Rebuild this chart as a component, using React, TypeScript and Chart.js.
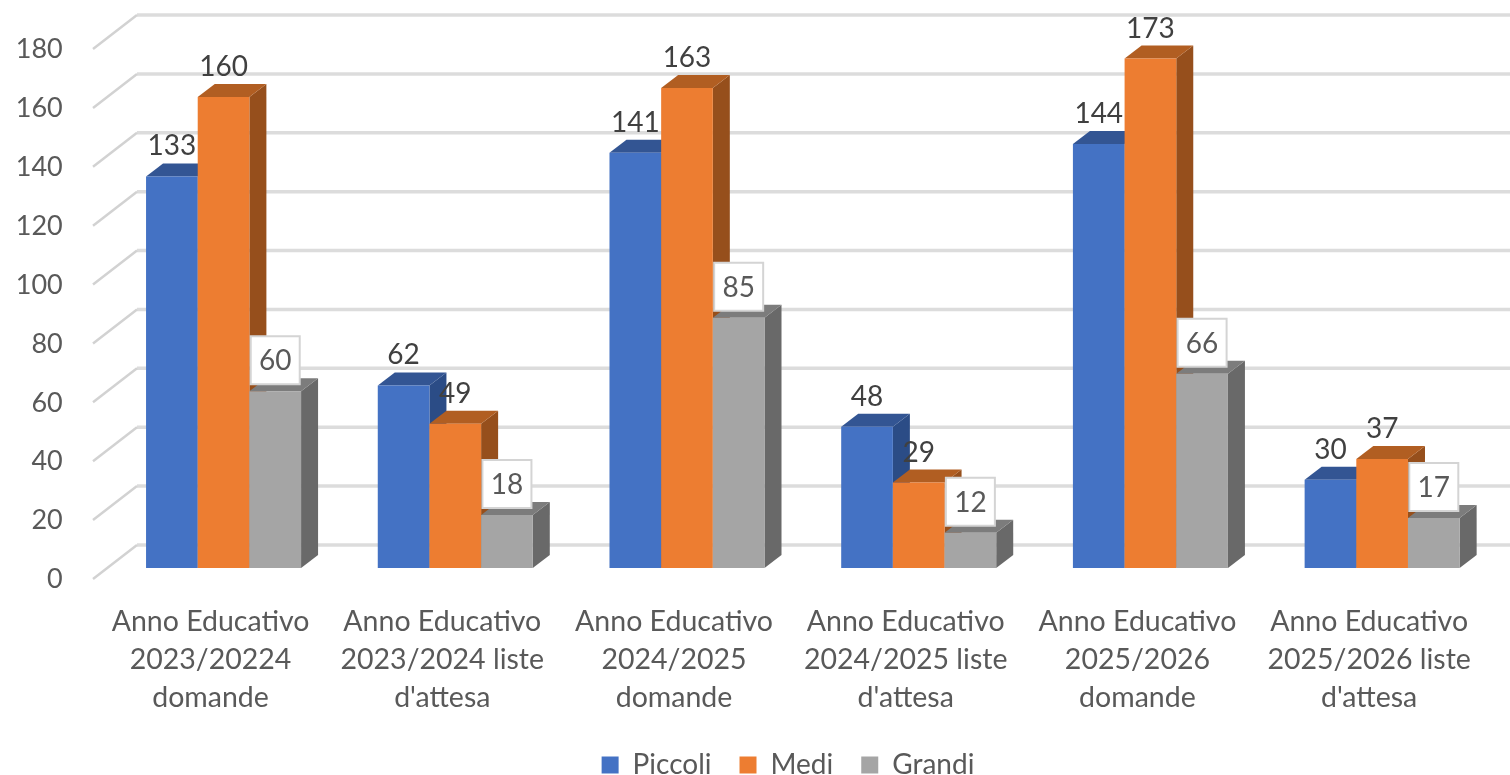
import React, { useEffect, useRef } from "react";
import { Chart, registerables } from "chart.js";

Chart.register(...registerables);

const categories = [
  ["Anno Educativo", "2023/20224", "domande"],
  ["Anno Educativo", "2023/2024 liste", "d'attesa"],
  ["Anno Educativo", "2024/2025", "domande"],
  ["Anno Educativo", "2024/2025 liste", "d'attesa"],
  ["Anno Educativo", "2025/2026", "domande"],
  ["Anno Educativo", "2025/2026 liste", "d'attesa"],
];
const piccoli = [133, 62, 141, 48, 144, 30];
const medi = [160, 49, 163, 29, 173, 37];
const grandi = [60, 18, 85, 12, 66, 17];

const FONT = "Lato, Carlito, sans-serif";
const DEPTH_X = 17;
const DEPTH_Y = 13;

const faces = [
  { front: "#4472C4", top: "#335593", side: "#2B4C86" },
  { front: "#ED7D31", top: "#B15E22", side: "#964F1C" },
  { front: "#A5A5A5", top: "#7C7C7C", side: "#696969" },
];

const wallPlugin = {
  id: "wall",
  beforeDatasetsDraw(chart: any) {
    const { ctx, scales, width } = chart;
    const y = scales.y;
    ctx.save();
    ctx.lineCap = "butt";
    y.ticks.forEach((t: any) => {
      const p = y.getPixelForValue(t.value);
      ctx.strokeStyle = "#dcdcdc";
      ctx.lineWidth = 3.5;
      ctx.beginPath();
      ctx.moveTo(137, p - 23);
      ctx.lineTo(width, p - 23);
      ctx.stroke();
      ctx.strokeStyle = "#d2d2d2";
      ctx.lineWidth = 2.5;
      ctx.beginPath();
      ctx.moveTo(93, p + 11);
      ctx.lineTo(137, p - 23);
      ctx.stroke();
    });
    ctx.restore();
  },
};

// Draws the datasets left to right so that each solid covers the side of the previous one.
const solidPlugin = {
  id: "solid",
  beforeDatasetsDraw(chart: any) {
    const { ctx } = chart;
    chart.data.datasets.forEach((_: any, i: number) => {
      const face = faces[i];
      chart.getDatasetMeta(i).data.forEach((el: any) => {
        const l = el.x - el.width / 2;
        const r = el.x + el.width / 2;
        ctx.fillStyle = face.side;
        ctx.beginPath();
        ctx.moveTo(r, el.base);
        ctx.lineTo(r + DEPTH_X, el.base - DEPTH_Y);
        ctx.lineTo(r + DEPTH_X, el.y - DEPTH_Y);
        ctx.lineTo(r, el.y);
        ctx.closePath();
        ctx.fill();
        ctx.fillStyle = face.top;
        ctx.beginPath();
        ctx.moveTo(l, el.y);
        ctx.lineTo(l + DEPTH_X, el.y - DEPTH_Y);
        ctx.lineTo(r + DEPTH_X, el.y - DEPTH_Y);
        ctx.lineTo(r, el.y);
        ctx.closePath();
        ctx.fill();
        el.draw(ctx);
      });
    });
  },
  beforeDatasetDraw() {
    return false;
  },
};

const labelPlugin = {
  id: "valueLabels",
  afterDatasetsDraw(chart: any) {
    const { ctx } = chart;
    ctx.save();
    ctx.font = `28px ${FONT}`;
    ctx.textAlign = "center";
    ctx.textBaseline = "middle";
    chart.data.datasets.forEach((ds: any, i: number) => {
      chart.getDatasetMeta(i).data.forEach((el: any, j: number) => {
        const cx = el.x;
        const cy = el.y - 31;
        if (i === 2) {
          ctx.fillStyle = "#ffffff";
          ctx.strokeStyle = "#d4d4d4";
          ctx.lineWidth = 2;
          ctx.beginPath();
          ctx.rect(cx - 24.5, cy - 24, 49, 48);
          ctx.fill();
          ctx.stroke();
        }
        ctx.fillStyle = i === 2 ? "#595959" : "#404040";
        ctx.fillText(String(ds.data[j]), cx, cy + 1);
      });
    });
    ctx.restore();
  },
};

// The reference's legend sits right of the canvas centre.
const legendShiftPlugin = {
  id: "legendShift",
  afterLayout(chart: any) {
    chart.legend.left += 39;
    chart.legend.right += 39;
    chart.legend.top += 1;
    chart.legend.bottom += 1;
  },
};

export default function App() {
  const ref = useRef<HTMLCanvasElement>(null);
  useEffect(() => {
    const chart = new Chart(ref.current as HTMLCanvasElement, {
      type: "bar",
      data: {
        labels: categories,
        datasets: [
          { label: "Piccoli", data: piccoli, backgroundColor: faces[0].front },
          { label: "Medi", data: medi, backgroundColor: faces[1].front },
          { label: "Grandi", data: grandi, backgroundColor: faces[2].front },
        ],
      },
      options: {
        responsive: false,
        animation: false,
        events: [],
        layout: { autoPadding: false, padding: { top: 38, right: 12, left: 0, bottom: -13 } },
        datasets: { bar: { categoryPercentage: 0.669, barPercentage: 1 } },
        scales: {
          x: {
            grid: { display: false },
            border: { display: false },
            ticks: {
              color: "#595959",
              font: { family: FONT, size: 28.5, lineHeight: 1.33 },
              maxRotation: 0,
              autoSkip: false,
              padding: 27,
              labelOffset: -13,
            },
            afterFit(scale: any) {
              scale.height = 788 - 568 - (scale.chart.legend?.height ?? 82);
              scale.paddingLeft = 0;
              scale.paddingRight = 0;
            },
          },
          y: {
            min: 0,
            max: 180,
            grid: { display: false },
            border: { display: false },
            ticks: {
              stepSize: 20,
              color: "#595959",
              font: { family: FONT, size: 27 },
              padding: 37,
              labelOffset: 11.5,
            },
            afterFit(scale: any) {
              scale.width = 107.7;
              scale.paddingTop = 0;
              scale.paddingBottom = 0;
            },
          },
        },
        plugins: {
          title: { display: false },
          tooltip: { enabled: false },
          legend: {
            position: "bottom",
            labels: {
              color: "#595959",
              font: { family: FONT, size: 28 },
              boxWidth: 17,
              boxHeight: 17,
              padding: 28,
            },
          },
        },
      } as any,
      plugins: [wallPlugin, solidPlugin, labelPlugin, legendShiftPlugin],
    });
    return () => chart.destroy();
  }, []);
  return (
    <canvas
      ref={ref}
      width={1510}
      height={775}
      style={{ position: "absolute", left: 0, top: 0, width: 1510, height: 775 }}
    />
  );
}
